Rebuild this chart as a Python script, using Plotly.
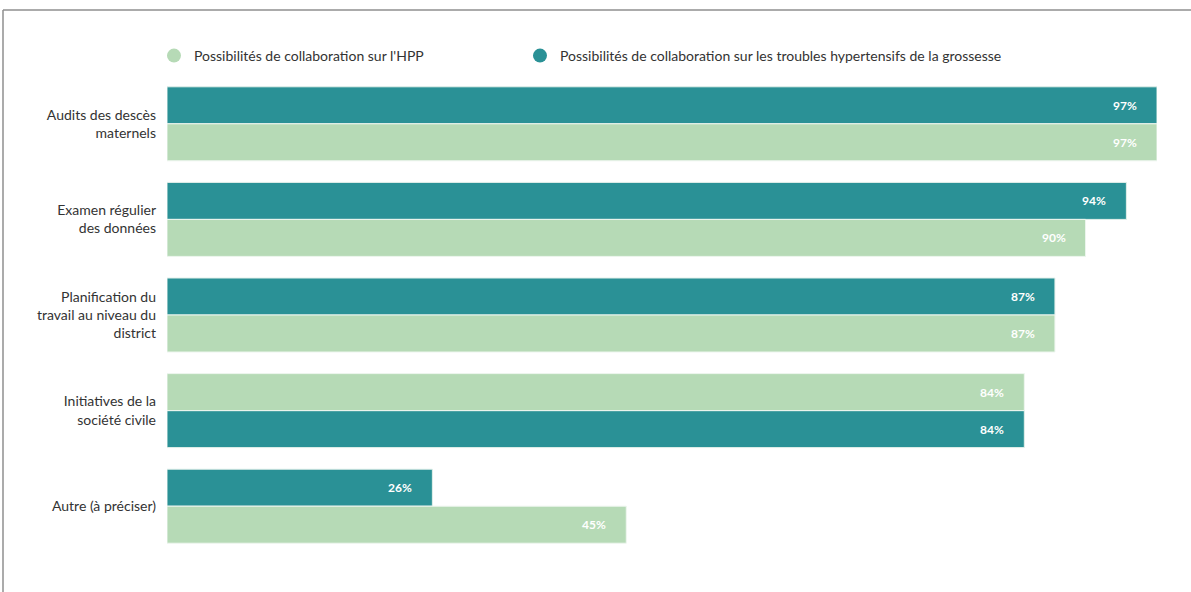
import plotly.graph_objects as go

categories = [
    "Audits des descès<br>maternels",
    "Examen régulier<br>des données",
    "Planification du<br>travail au niveau du<br>district",
    "Initiatives de la<br>société civile",
    "Autre (à préciser)",
]
hpp_values = [97, 90, 87, 84, 45]
thg_values = [97, 94, 87, 84, 26]
# which bar is on top within each group (True = hypertensive series on top)
thg_on_top = [True, True, True, False, True]

name_hpp = "Possibilités de collaboration sur l'HPP"
name_thg = "Possibilités de collaboration sur les troubles hypertensifs de la grossesse"

col_dark = "#2a9196"
col_light = "#b6dab6"
W = 0.387

off_thg = [-W if t else 0 for t in thg_on_top]
off_hpp = [0 if t else -W for t in thg_on_top]

fig = go.Figure()
fig.add_trace(go.Bar(
    y=categories, x=thg_values, orientation="h", name=name_thg,
    marker=dict(color=col_dark, line=dict(color="#e3f0ea", width=1)),
    width=W, offset=off_thg, showlegend=False, hoverinfo="skip"))
fig.add_trace(go.Bar(
    y=categories, x=hpp_values, orientation="h", name=name_hpp,
    marker=dict(color=col_light, line=dict(color="#eef6ef", width=1)),
    width=W, offset=off_hpp, showlegend=False, hoverinfo="skip"))

# legend entries with circle markers
fig.add_trace(go.Scatter(x=[None], y=[None], mode="markers", name=name_hpp,
                         marker=dict(color=col_light, size=14, symbol="circle"),
                         legend="legend"))
fig.add_trace(go.Scatter(x=[None], y=[None], mode="markers", name=name_thg,
                         marker=dict(color=col_dark, size=14, symbol="circle"),
                         legend="legend2"))

annotations = []
for i in range(len(categories)):
    for vals, offs in ((thg_values, off_thg), (hpp_values, off_hpp)):
        annotations.append(dict(
            x=vals[i], y=i + offs[i] + W / 2, xref="x", yref="y",
            text=f"<b>{vals[i]}%</b>", showarrow=False, xanchor="right",
            xshift=-18, font=dict(family="Lato", size=12, color="#ffffff")))

L, R, T, B = 167, 34, 76, 38
PW, PH = 1191 - L - R, 592 - T - B

def px_x(p):
    return (p - L) / PW

def px_y(p):
    return (592 - B - p) / PH

shapes = [
    dict(type="line", xref="paper", yref="paper", x0=px_x(3), x1=px_x(1195),
         y0=px_y(10), y1=px_y(10), line=dict(color="#8f8f8f", width=1.5)),
    dict(type="line", xref="paper", yref="paper", x0=px_x(3), x1=px_x(3),
         y0=px_y(10), y1=px_y(600), line=dict(color="#8f8f8f", width=1.5)),
]

legend_font = dict(family="Lato", size=14, color="#333333")

fig.update_layout(
    width=1191, height=592,
    margin=dict(l=L, r=R, t=T, b=B),
    paper_bgcolor="white", plot_bgcolor="white",
    barmode="overlay",
    font=dict(family="Lato", size=14, color="#333333"),
    showlegend=True,
    legend=dict(orientation="h", x=px_x(154), xanchor="left", y=px_y(56),
                yanchor="middle", font=legend_font, itemclick=False),
    legend2=dict(orientation="h", x=px_x(520), xanchor="left", y=px_y(56),
                 yanchor="middle", font=legend_font, itemclick=False),
    xaxis=dict(visible=False, range=[0, 97], fixedrange=True),
    yaxis=dict(categoryorder="array", categoryarray=categories, autorange=False,
               range=[4.5, -0.5], showgrid=False, zeroline=False, showline=False,
               ticks="", ticklabelstandoff=10,
               tickfont=dict(family="Lato", size=14, color="#333333")),
    annotations=annotations,
    shapes=shapes,
)

fig.write_html("out.html")
